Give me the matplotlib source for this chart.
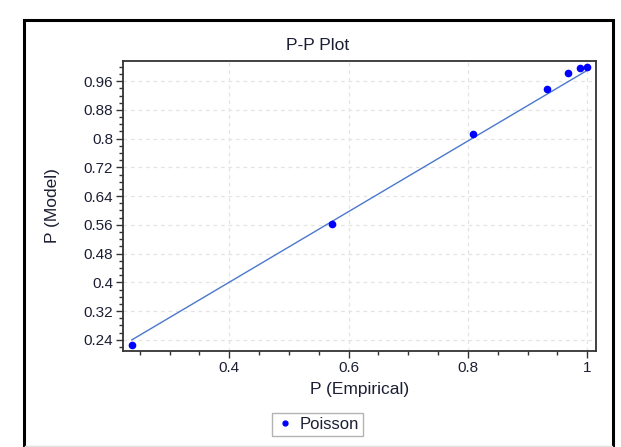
import matplotlib
matplotlib.use("Agg")
import matplotlib.pyplot as plt
from matplotlib.patches import Rectangle
from matplotlib.lines import Line2D
from matplotlib.ticker import MultipleLocator

plt.rcParams['font.family'] = ['Liberation Sans', 'DejaVu Sans']

# empirical vs model probabilities (Poisson fit)
p_emp = [0.237, 0.573, 0.808, 0.933, 0.968, 0.988, 1.0]
p_mod = [0.226, 0.562, 0.812, 0.937, 0.982, 0.996, 1.0]

# reference line
line_x = [0.237, 1.0]
line_y = [0.240, 0.990]

xticks = [0.4, 0.6, 0.8, 1.0]
xtick_labels = ["0.4", "0.6", "0.8", "1"]
yticks = [0.24, 0.32, 0.4, 0.48, 0.56, 0.64, 0.72, 0.8, 0.88, 0.96]
ytick_labels = ["0.24", "0.32", "0.4", "0.48", "0.56", "0.64", "0.72", "0.8", "0.88", "0.96"]

txt = "#1c1f33"

fig = plt.figure(figsize=(6.21, 4.47), dpi=100)
ax = fig.add_axes([0.198, 0.2148, 0.762, 0.6487])

ax.plot(line_x, line_y, color="#4a78cc", lw=1.0, zorder=2)
ax.plot(p_emp, p_mod, "o", color="#0000ff", ms=4.5, zorder=3)

ax.set_xlim(0.222, 1.015)
ax.set_ylim(0.209, 1.016)
ax.set_xticks(xticks)
ax.set_xticklabels(xtick_labels)
ax.set_yticks(yticks)
ax.set_yticklabels(ytick_labels)
ax.xaxis.set_minor_locator(MultipleLocator(0.05))
ax.yaxis.set_minor_locator(MultipleLocator(0.02))
ax.tick_params(which="major", direction="out", length=5, width=1, color="#333333",
               labelsize=11, labelcolor=txt, pad=2)
ax.tick_params(which="minor", direction="out", length=3, width=1, color="#333333")

ax.grid(True, which="major", color="#e4e4e4", lw=0.9, linestyle=(0, (3, 3)))
ax.set_axisbelow(True)
for s in ax.spines.values():
    s.set_color("#333333")
    s.set_linewidth(1.3)

ax.set_xlabel("P (Empirical)", fontsize=12.5, color=txt, labelpad=5)
ax.set_ylabel("P (Model)", fontsize=12.5, color=txt, labelpad=17)
fig.text(0.512, 0.898, "P-P Plot", fontsize=12.5, color=txt, ha="center", va="center")

handle = Line2D([], [], marker="o", color="#0000ff", ls="none", ms=3.5)
leg = fig.legend([handle], ["Poisson"], loc="center", bbox_to_anchor=(0.512, 0.0503),
                 fontsize=12, frameon=True, fancybox=False, handlelength=1.0,
                 handletextpad=0.4, borderpad=0.25, labelcolor=txt)
leg.get_frame().set_edgecolor("#a0a0a0")
leg.get_frame().set_linewidth(1.0)

# outer frame of the chart window
fig.add_artist(Rectangle((24 / 621, -0.05), (613 - 24) / 621, 1.05 - 20 / 447,
                         transform=fig.transFigure, fill=False, ec="black", lw=2.2))
fig.add_artist(Line2D([25 / 621, 612 / 621], [1.5 / 447, 1.5 / 447],
                      transform=fig.transFigure, color="#e0e0e0", lw=1))

fig.savefig("out.png", dpi=100)
